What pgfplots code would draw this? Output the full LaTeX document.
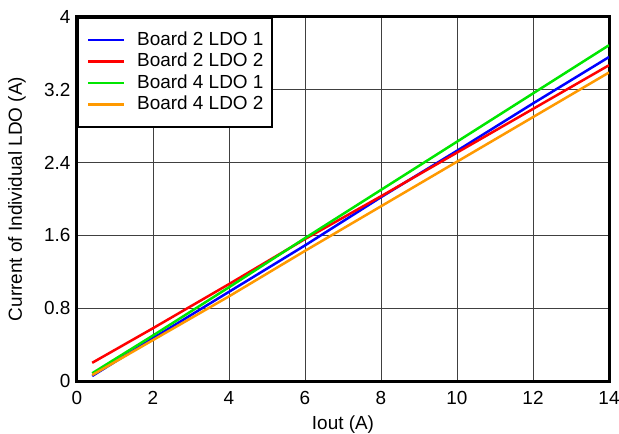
\documentclass[border=0pt]{standalone}
\usepackage{fontspec}
\setmainfont{Liberation Sans}
\usepackage{pgfplots}
\pgfplotsset{compat=1.18}
\definecolor{lgreen}{RGB}{0,230,0}
\definecolor{lorange}{RGB}{255,153,0}
\begin{document}
\begin{tikzpicture}
\begin{axis}[
  scale only axis,
  width=532bp, height=364bp,
  xmin=0, xmax=14, ymin=0, ymax=4,
  xtick={0,2,...,14},
  ytick={0,0.8,1.6,2.4,3.2,4},
  yticklabels={0,0.8,1.6,2.4,3.2,4},
  major tick length=0pt,
  grid=major,
  major grid style={black!75, line width=0.9bp},
  axis line style={line width=3bp, black},
  tick label style={font=\fontsize{19}{22}\selectfont},
  /pgf/number format/assume math mode=true,
  xticklabel style={yshift=-7bp},
  yticklabel style={xshift=-3bp},
  label style={font=\fontsize{19}{22}\selectfont},
  xlabel={Iout (A)},
  ylabel={Current of Individual LDO (A)},
  xlabel style={at={(axis description cs:0.5,0)}, anchor=center, yshift=-44bp},
  ylabel style={at={(axis description cs:-0.1128,0.5)}, anchor=center},
  legend cell align=left,
  legend style={at={(0,1)}, anchor=north west, draw=black, line width=2bp,
    font=\fontsize{19}{22}\selectfont, inner xsep=9bp, inner ysep=13bp,
    row sep=3.5bp,
    nodes={inner sep=0pt, text height=14bp, text depth=4bp},
    /tikz/every odd column/.style={column sep=12bp}},
  legend image code/.code={\draw[#1, line width=2.2bp] (0bp,0bp) -- (36bp,0bp);},
  every axis plot/.append style={line width=2.5bp},
]
\addplot[blue] coordinates {(0.4,0.055) (2,0.47) (4,0.98) (6,1.49) (8,2.02) (10,2.53) (12,3.05) (14,3.56)};
\addlegendentry{Board 2 LDO 1}
\addplot[red] coordinates {(0.4,0.20) (2,0.58) (4,1.065) (6,1.56) (8,2.03) (10,2.51) (12,2.99) (14,3.47)};
\addlegendentry{Board 2 LDO 2}
\addplot[lgreen] coordinates {(0.4,0.085) (2,0.50) (4,1.03) (6,1.57) (8,2.10) (10,2.63) (12,3.16) (14,3.69)};
\addlegendentry{Board 4 LDO 1}
\addplot[lorange] coordinates {(0.4,0.065) (2,0.45) (4,0.93) (6,1.43) (8,1.92) (10,2.41) (12,2.90) (14,3.39)};
\addlegendentry{Board 4 LDO 2}
\end{axis}
\pgfresetboundingbox
\path[use as bounding box] (-77bp,-53bp) rectangle (542bp,381bp);
\end{tikzpicture}
\end{document}
